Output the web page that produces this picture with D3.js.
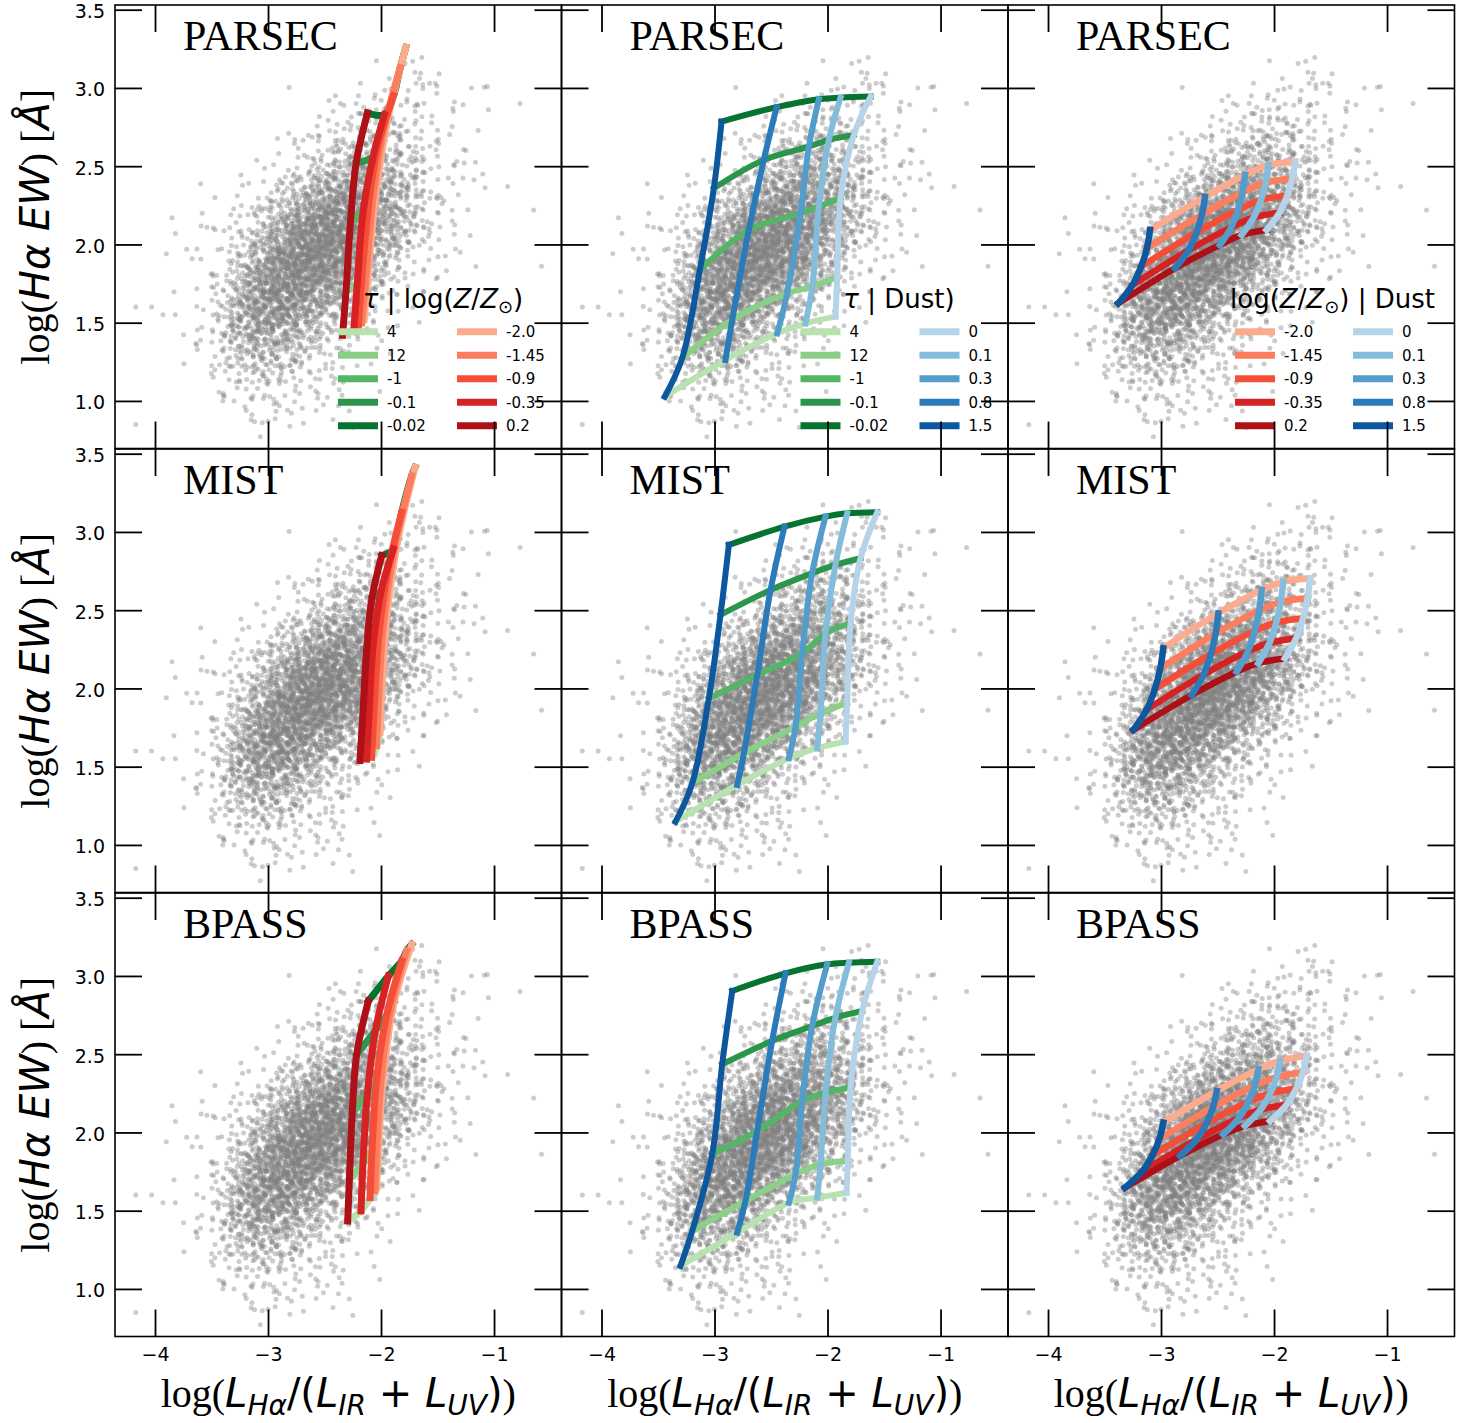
<!DOCTYPE html>
<html>
<head>
<meta charset="utf-8">
<script src="https://cdn.jsdelivr.net/npm/d3@7"></script>
<style>
body { margin: 0; background: #fff; }
</style>
</head>
<body>
<div id="fig"></div>
<script>
const W = 1465, H = 1423;

const models = ["PARSEC", "MIST", "BPASS"];
const xTicks = [-4, -3, -2, -1];
const yTicks = [1.0, 1.5, 2.0, 2.5, 3.0, 3.5];

const tauLabels = ["4", "12", "-1", "-0.1", "-0.02"];
const zLabels = ["-2.0", "-1.45", "-0.9", "-0.35", "0.2"];
const dustLabels = ["0", "0.1", "0.3", "0.8", "1.5"];

const greens = ["#b8e3b1", "#8bcf89", "#55b567", "#2c954c", "#077331"];
const reds = ["#fcab8e", "#fc7e5e", "#f44e38", "#d62222", "#ad1117"];
const blues = ["#b6d4e9", "#84bcdb", "#529dcc", "#2b7bba", "#0d579f"];

// column 1: one curve per log(Z/Zsun) (legend order), nodes tau = 4 .. -0.02
const zTauParsec = [
  [[-2.15,1.52],[-2.11,1.85],[-2.04,2.35],[-1.94,2.80],[-1.78,3.26]],
  [[-2.17,1.50],[-2.13,1.82],[-2.07,2.30],[-1.98,2.72],[-1.83,3.13]],
  [[-2.20,1.48],[-2.17,1.78],[-2.11,2.25],[-2.03,2.62],[-1.89,2.95]],
  [[-2.24,1.46],[-2.21,1.75],[-2.16,2.20],[-2.07,2.56],[-1.97,2.83]],
  [[-2.34,1.42],[-2.31,1.70],[-2.27,2.15],[-2.22,2.52],[-2.12,2.84]]
];
const zTauMist = [
  [[-2.009,1.72],[-1.99,2.02],[-1.95,2.45],[-1.85,2.95],[-1.699,3.413]],
  [[-2.038,1.634],[-2.02,1.95],[-1.98,2.40],[-1.88,2.90],[-1.728,3.36]],
  [[-2.083,1.56],[-2.06,1.88],[-2.02,2.33],[-1.94,2.75],[-1.817,3.126]],
  [[-2.127,1.549],[-2.105,1.85],[-2.07,2.27],[-2.0,2.62],[-1.891,2.891]],
  [[-2.186,1.539],[-2.16,1.84],[-2.127,2.25],[-2.08,2.58],[-1.994,2.849]]
];
const zTauBpass = [
  [[-2.038,1.647],[-2.02,1.94],[-1.975,2.39],[-1.885,2.83],[-1.728,3.202]],
  [[-2.053,1.626],[-2.035,1.92],[-1.995,2.37],[-1.91,2.80],[-1.773,3.16]],
  [[-2.097,1.583],[-2.08,1.88],[-2.04,2.33],[-1.95,2.75],[-1.817,3.096]],
  [[-2.177,1.498],[-2.16,1.80],[-2.12,2.25],[-2.05,2.65],[-1.935,3.0]],
  [[-2.295,1.434],[-2.28,1.70],[-2.255,2.12],[-2.215,2.50],[-2.112,2.84]]
];

// column 2: one curve per dust (legend order), nodes tau = 4 .. -0.02
const dustTauParsec = [
  [[-1.929,1.539],[-1.914,1.794],[-1.885,2.295],[-1.767,2.70],[-1.619,2.945]],
  [[-2.195,1.496],[-2.135,1.73],[-2.077,2.242],[-1.988,2.668],[-1.885,2.938]],
  [[-2.445,1.432],[-2.357,1.688],[-2.239,2.2],[-2.165,2.625],[-2.077,2.928]],
  [[-2.903,1.262],[-2.843,1.518],[-2.696,2.093],[-2.564,2.54],[-2.451,2.877]],
  [[-3.44,1.027],[-3.286,1.273],[-3.13,1.837],[-3.006,2.359],[-2.938,2.785]]
];
const dustTauMist = [
  [[-1.841,1.66],[-1.826,1.906],[-1.796,2.417],[-1.708,2.832],[-1.56,3.126]],
  [[-2.091,1.618],[-2.062,1.842],[-2.018,2.353],[-1.93,2.789],[-1.826,3.119]],
  [[-2.342,1.554],[-2.283,1.756],[-2.224,2.225],[-2.136,2.736],[-2.018,3.098]],
  [[-2.799,1.383],[-2.74,1.586],[-2.622,2.086],[-2.504,2.629],[-2.381,3.034]],
  [[-3.345,1.149],[-3.197,1.394],[-3.05,1.937],[-2.947,2.47],[-2.873,2.917]]
];
const dustTauBpass = [
  [[-1.832,1.615],[-1.82,1.818],[-1.796,2.287],[-1.693,2.776],[-1.56,3.091]],
  [[-2.091,1.583],[-2.062,1.797],[-2.018,2.254],[-1.93,2.734],[-1.811,3.085]],
  [[-2.342,1.551],[-2.283,1.733],[-2.224,2.201],[-2.136,2.68],[-2.003,3.075]],
  [[-2.799,1.36],[-2.726,1.562],[-2.622,2.01],[-2.49,2.585],[-2.372,3.017]],
  [[-3.301,1.147],[-3.197,1.371],[-3.02,1.861],[-2.932,2.436],[-2.843,2.904]]
];

// column 3: one curve per dust (legend order), nodes log(Z/Zsun) = -2.0 .. 0.2
const dustZParsec = [
  [[-1.814,2.529],[-1.839,2.420],[-1.884,2.311],[-1.952,2.202],[-2.065,2.093]],
  [[-2.05,2.508],[-2.074,2.396],[-2.116,2.285],[-2.180,2.173],[-2.286,2.061]],
  [[-2.257,2.444],[-2.279,2.332],[-2.319,2.221],[-2.379,2.109],[-2.478,1.997]],
  [[-2.611,2.305],[-2.638,2.191],[-2.685,2.077],[-2.757,1.962],[-2.876,1.848]],
  [[-3.097,2.093],[-3.125,1.976],[-3.176,1.859],[-3.252,1.741],[-3.378,1.624]]
];
const dustZMist = [
  [[-1.681,2.704],[-1.703,2.576],[-1.743,2.449],[-1.803,2.321],[-1.903,2.193]],
  [[-1.918,2.682],[-1.94,2.552],[-1.98,2.422],[-2.04,2.291],[-2.139,2.161]],
  [[-2.109,2.629],[-2.131,2.499],[-2.171,2.368],[-2.231,2.238],[-2.33,2.107]],
  [[-2.493,2.48],[-2.517,2.35],[-2.559,2.219],[-2.622,2.089],[-2.728,1.958]],
  [[-2.98,2.257],[-3.007,2.127],[-3.054,1.996],[-3.126,1.866],[-3.245,1.735]]
];
const dustZBpass = [
  [[-1.711,2.489],[-1.743,2.385],[-1.802,2.281],[-1.889,2.177],[-2.035,2.073]],
  [[-1.947,2.457],[-1.978,2.353],[-2.034,2.25],[-2.118,2.146],[-2.257,2.042]],
  [[-2.139,2.404],[-2.17,2.3],[-2.226,2.196],[-2.31,2.092],[-2.449,1.988]],
  [[-2.507,2.265],[-2.54,2.161],[-2.598,2.058],[-2.686,1.954],[-2.832,1.85]],
  [[-2.98,2.063],[-3.014,1.959],[-3.075,1.855],[-3.166,1.751],[-3.319,1.647]]
];

// observed galaxies: counts per 0.2 x 0.2 cell (x from -4.2, y rows from 3.0 down)
const cloudX = [-4.2,-4.0,-3.8,-3.6,-3.4,-3.2,-3.0,-2.8,-2.6,-2.4,-2.2,-2.0,-1.8,-1.6,-1.4,-1.2,-1.0,-0.8];
const cloudY = [3.0, 2.8, 2.6, 2.4, 2.2, 2.0, 1.8, 1.6, 1.4, 1.2, 1.0, 0.8];
const cloudCounts = [
  [0,0,0,0,0,0,0,0,0,0,1,2,2,1,0,0,0,0],
  [0,0,0,0,0,0,0,1,2,4,7,9,7,3,1,1,0,0],
  [0,0,0,0,0,0,1,3,8,16,26,24,14,5,2,1,0,0],
  [0,0,0,0,0,2,5,12,28,50,62,48,22,7,3,1,0,0],
  [0,0,0,1,3,8,22,55,95,115,105,70,28,9,3,1,0,0],
  [0,0,1,3,8,24,70,140,180,170,125,65,22,7,2,1,0,0],
  [0,0,1,4,18,60,135,195,185,130,72,28,9,3,1,0,0,0],
  [0,0,2,6,38,115,165,140,95,50,22,8,3,1,0,0,0,0],
  [0,0,2,9,50,100,100,65,36,17,7,3,1,0,0,0,0,0],
  [0,0,1,6,28,48,42,26,14,7,3,1,0,0,0,0,0,0],
  [0,0,0,2,8,16,14,10,6,3,1,0,0,0,0,0,0,0],
  [0,0,0,0,1,3,4,4,3,1,1,0,0,0,0,0,0,0]
];
const cloudOutliers = [
  [-1.72,3.17],[-1.70,3.10],[-1.66,3.06],[-1.69,3.03],[-1.63,3.02],[-1.57,3.03],[-1.52,3.03],[-1.20,3.00],[-1.06,3.01],
  [-2.46,2.92],[-2.36,2.90],[-2.20,2.95],[-2.22,2.90],[-1.77,2.93],[-1.35,2.91],[-0.77,2.90],[-1.05,2.86],[-1.55,2.82],[-1.36,2.85],
  [-1.50,2.73],[-1.33,2.53],[-0.88,2.37],[-1.47,2.30],[-1.46,2.26],[-0.65,2.22],[-1.37,2.15],[-0.58,1.86],[-1.50,1.79],
  [-3.85,2.17],[-3.82,2.07],[-3.90,1.94],[-3.72,1.97],[-4.03,1.60],[-3.93,1.55],[-3.82,1.55],[-4.17,0.85],[-3.47,2.30],[-3.54,2.11],
  [-3.47,1.20],[-3.40,1.00],[-3.30,1.00],[-3.15,0.88],[-3.05,0.86],[-3.00,0.87],[-2.25,0.83],[-2.95,1.01],[-4.17,1.60],
  [-1.25,2.60],[-1.10,2.45],[-1.58,2.05],[-1.30,1.95],[-1.62,1.70]
];

// layout
const colLeft = [115, 561.5, 1008], rowTop = [5, 449, 893];
const pw = 446.5, ph = 443.5;

const x = d3.scaleLinear().domain([-4.354, -0.403]).range([0, pw]);
const y = d3.scaleLinear().domain([0.696, 3.530]).range([ph, 0]);

// spread each cell's count with a tent kernel (low-discrepancy placement)
function halton(i, b) {
  let f = 1, r = 0;
  while (i > 0) { f /= b; r += f * (i % b); i = Math.floor(i / b); }
  return r;
}
const cloud = cloudOutliers.slice();
cloudCounts.forEach((row, r) => row.forEach((n, c) => {
  for (let k = 0; k < n; k++) {
    const s = (r * 18 + c) * 211 + k + 1;
    const u = halton(s, 2) + halton(s, 5) - 0.5;
    const v = halton(s, 3) + halton(s, 7) - 0.5;
    cloud.push([cloudX[c] + u * 0.2, cloudY[r] + v * 0.2]);
  }
}));

const grids = [
  [zTauParsec, dustTauParsec, dustZParsec],
  [zTauMist, dustTauMist, dustZMist],
  [zTauBpass, dustTauBpass, dustZBpass]
];
// per column: colours of the curves in the grid (over) and of the cross curves (under)
const colStyle = [
  {over: reds, under: greens, lw: 7},
  {over: blues, under: greens, lw: 6},
  {over: blues, under: reds, lw: 6.5}
];
const legends = [
  {title: "tauZ", left: tauLabels, leftC: greens, right: zLabels, rightC: reds, sw1: 223, sw2: 342, tc: 328},
  {title: "tauDust", left: tauLabels, leftC: greens, right: dustLabels, rightC: blues, sw1: 239, sw2: 358, tc: 337.5},
  {title: "zDust", left: zLabels, leftC: reds, right: dustLabels, rightC: blues, sw1: 227, sw2: 345, tc: 324.5}
];

const svg = d3.select("#fig").append("svg")
  .attr("width", W).attr("height", H)
  .attr("font-family", "DejaVu Sans");

const line = d3.line()
  .x(d => x(d[0])).y(d => y(d[1]))
  .curve(d3.curveCatmullRom.alpha(0.5));

svg.append("defs").append("clipPath").attr("id", "pclip")
  .append("rect").attr("width", pw).attr("height", ph);

for (let r = 0; r < 3; r++) {
  for (let c = 0; c < 3; c++) {
    const g = svg.append("g").attr("transform", `translate(${colLeft[c]},${rowTop[r]})`);
    const plot = g.append("g").attr("clip-path", "url(#pclip)");

    plot.append("g").selectAll("circle")
      .data(cloud).enter().append("circle")
        .attr("cx", d => x(d[0]))
        .attr("cy", d => y(d[1]))
        .attr("r", 2.5)
        .attr("fill", "#808080")
        .attr("fill-opacity", 0.4);

    const grid = grids[r][c], st = colStyle[c];
    // cross curves: connect node k of every curve
    for (let k = 0; k < 5; k++) {
      plot.append("path")
        .attr("d", line(grid.map(l => l[k])))
        .attr("fill", "none")
        .attr("stroke", st.under[k])
        .attr("stroke-width", st.lw)
        .attr("stroke-linecap", "square")
        .attr("stroke-linejoin", "round");
    }
    grid.forEach((l, i) => {
      plot.append("path")
        .attr("d", line(l))
        .attr("fill", "none")
        .attr("stroke", st.over[i])
        .attr("stroke-width", st.lw)
        .attr("stroke-linecap", "square")
        .attr("stroke-linejoin", "round");
    });

    // legend (top row only)
    if (r === 0) {
      const lg = legends[c];
      const leg = g.append("g");
      const t = leg.append("text")
        .attr("x", lg.tc).attr("y", 303)
        .attr("text-anchor", "middle")
        .attr("font-size", 26);
      if (lg.title === "tauZ") {
        t.append("tspan").attr("font-style", "italic").text("τ");
        t.append("tspan").text(" | log(");
        t.append("tspan").attr("font-style", "italic").text("Z");
        t.append("tspan").text("/");
        t.append("tspan").attr("font-style", "italic").text("Z");
        t.append("tspan").attr("font-size", 18).attr("dy", 5).text("⊙");
        t.append("tspan").attr("dy", -5).text(")");
      } else if (lg.title === "tauDust") {
        t.append("tspan").attr("font-style", "italic").text("τ");
        t.append("tspan").text(" | Dust)");
      } else {
        t.append("tspan").text("log(");
        t.append("tspan").attr("font-style", "italic").text("Z");
        t.append("tspan").text("/");
        t.append("tspan").attr("font-style", "italic").text("Z");
        t.append("tspan").attr("font-size", 18).attr("dy", 5).text("⊙");
        t.append("tspan").attr("dy", -5).text(") | Dust");
      }
      [[lg.left, lg.leftC, lg.sw1], [lg.right, lg.rightC, lg.sw2]].forEach(([labs, cols, sx]) => {
        labs.forEach((lab, i) => {
          const yy = 326.7 + 23.5 * i;
          leg.append("line")
            .attr("x1", sx).attr("x2", sx + 40)
            .attr("y1", yy).attr("y2", yy)
            .attr("stroke", cols[i]).attr("stroke-width", 7);
          leg.append("text")
            .attr("x", sx + 49).attr("y", yy).attr("dy", "0.36em")
            .attr("font-size", 15).text(lab);
        });
      });
    }

    // axes: inward ticks on all four sides
    const bottomAx = d3.axisBottom(x).tickValues(xTicks).tickSize(-27).tickPadding(11)
      .tickFormat(r === 2 ? d3.format("d") : "");
    const topAx = d3.axisTop(x).tickValues(xTicks).tickSize(-27).tickFormat("");
    const leftAx = d3.axisLeft(y).tickValues(yTicks).tickSize(-27).tickPadding(10)
      .tickFormat(c === 0 ? d3.format(".1f") : "");
    const rightAx = d3.axisRight(y).tickValues(yTicks).tickSize(-27).tickFormat("");

    const axes = [
      g.append("g").attr("transform", `translate(0,${ph})`).call(bottomAx),
      g.append("g").call(topAx),
      g.append("g").call(leftAx),
      g.append("g").attr("transform", `translate(${pw},0)`).call(rightAx)
    ];
    axes.forEach(a => {
      a.select(".domain").remove();
      a.selectAll(".tick line").attr("stroke", "#000").attr("stroke-width", 1.8);
      a.selectAll("text").attr("font-family", "DejaVu Sans").attr("font-size", 19).attr("fill", "#000");
    });
    axes[2].selectAll("text").attr("dy", "0.42em");

    g.append("rect")
      .attr("width", pw).attr("height", ph)
      .attr("fill", "none").attr("stroke", "#000").attr("stroke-width", 1.6);

    g.append("text")
      .attr("x", 68).attr("y", 45)
      .attr("font-family", "Liberation Serif")
      .attr("font-size", 42)
      .text(models[r]);
  }
}

// y-axis labels
for (let r = 0; r < 3; r++) {
  const cy = rowTop[r] + ph / 2;
  const t = svg.append("text")
    .attr("transform", `translate(49,${cy}) rotate(-90)`)
    .attr("text-anchor", "middle")
    .attr("font-family", "Liberation Serif")
    .attr("font-size", 40);
  t.append("tspan").text("log(");
  t.append("tspan").attr("font-family", "DejaVu Sans").attr("font-style", "italic").text("Hα EW");
  t.append("tspan").text(") [");
  t.append("tspan").attr("font-family", "DejaVu Sans").attr("font-style", "italic").text("Å");
  t.append("tspan").text("]");
}

// x-axis labels
for (let c = 0; c < 3; c++) {
  const cx = colLeft[c] + pw / 2;
  const t = svg.append("text")
    .attr("x", cx).attr("y", 1407)
    .attr("text-anchor", "middle")
    .attr("font-family", "Liberation Serif")
    .attr("font-size", 40);
  const m = (txt, opts = {}) => {
    const s = t.append("tspan").attr("font-family", "DejaVu Sans").text(txt);
    if (opts.it) s.attr("font-style", "italic");
    if (opts.size) s.attr("font-size", opts.size);
    if (opts.dy) s.attr("dy", opts.dy);
    return s;
  };
  t.append("tspan").text("log(");
  m("L", {it: true, size: 40});
  m("Hα", {it: true, size: 28, dy: 8});
  m("/(", {size: 40, dy: -8});
  m("L", {it: true, size: 40});
  m("IR", {it: true, size: 28, dy: 8});
  m(" + ", {size: 40, dy: -8});
  m("L", {it: true, size: 40});
  m("UV", {it: true, size: 28, dy: 8});
  m(")", {size: 40, dy: -8});
  t.append("tspan").text(")");
}
</script>
</body>
</html>
